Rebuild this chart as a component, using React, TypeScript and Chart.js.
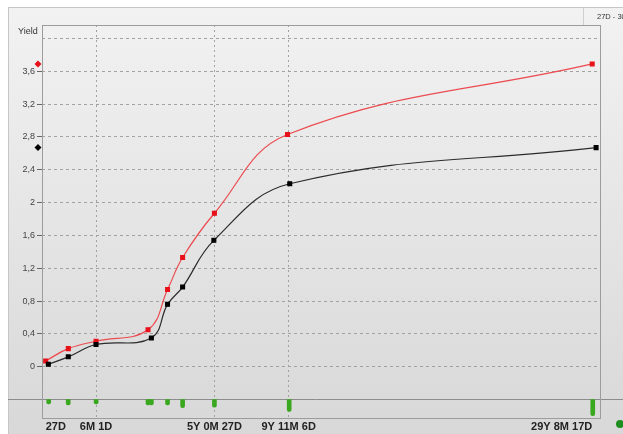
import React, { useEffect, useRef } from "react";
import { Chart, registerables } from "chart.js";
Chart.register(...registerables);

// x axis: position along the (non-linear) maturity axis, 0..100 axis units
const tickPositions = [0.66, 9.68, 30.9, 44.2, 98.6];
const tickLabels = ["27D", "6M 1D", "5Y 0M 27D", "9Y 11M 6D", "29Y 8M 17D"];

const redX = [0.66, 4.71, 9.68, 19.0, 22.5, 25.2, 30.9, 44.0, 98.6];
const redY = [0.07, 0.22, 0.31, 0.45, 0.94, 1.33, 1.87, 2.83, 3.69];
const blackX = [1.13, 4.71, 9.68, 19.6, 22.5, 25.2, 30.8, 44.4, 99.3];
const blackY = [0.03, 0.12, 0.27, 0.35, 0.76, 0.97, 1.54, 2.23, 2.67];

const barX = [1.2, 4.7, 9.7, 19.0, 19.6, 22.5, 25.2, 30.9, 44.3, 98.7];
const barV = [0.24, 0.29, 0.24, 0.29, 0.29, 0.29, 0.44, 0.41, 0.65, 0.88];

const yTicks = [-0.4, 0, 0.4, 0.8, 1.2, 1.6, 2, 2.4, 2.8, 3.2, 3.6, 4.0];
const Y_MIN = -0.6255;
const Y_MAX = 4.1645;
const SEP = -0.4;

const FONT = "'Liberation Sans', Arial, sans-serif";

const decor = {
  id: "decor",
  beforeDraw(chart: any) {
    const { ctx, width, height } = chart;
    ctx.save();
    ctx.fillStyle = "#ffffff";
    ctx.fillRect(0, 0, width, height);
    const g = ctx.createLinearGradient(0, 7, 0, height);
    g.addColorStop(0, "#f2f2f2");
    g.addColorStop(1, "#d8d8d8");
    ctx.fillStyle = g;
    ctx.fillRect(8, 7, width - 8, height - 7);
    ctx.strokeStyle = "#c6c6c6";
    ctx.lineWidth = 1;
    ctx.strokeRect(8.5, 7.5, width, height);
    ctx.strokeStyle = "#d0d0d0";
    ctx.beginPath();
    ctx.moveTo(583.5, 8);
    ctx.lineTo(583.5, 25);
    ctx.stroke();
    ctx.fillStyle = "#333";
    ctx.textBaseline = "middle";
    ctx.textAlign = "left";
    ctx.font = `7.5px ${FONT}`;
    ctx.fillText("27D - 30Y", 597, 16.5);
    ctx.font = `9px ${FONT}`;
    ctx.fillText("Yield", 18, 32);
    ctx.restore();
  },
  beforeDatasetsDraw(chart: any) {
    const { ctx, scales } = chart;
    const y = scales.y.getPixelForValue(SEP);
    ctx.save();
    ctx.strokeStyle = "#8c8c8c";
    ctx.lineWidth = 1;
    ctx.beginPath();
    ctx.moveTo(8, Math.round(y) + 0.5);
    ctx.lineTo(chart.width, Math.round(y) + 0.5);
    ctx.stroke();
    ctx.restore();
  },
  afterDraw(chart: any) {
    const { ctx, chartArea: a, scales } = chart;
    ctx.save();
    ctx.strokeStyle = "#9c9c9c";
    ctx.lineWidth = 1;
    ctx.strokeRect(Math.round(a.left) + 0.5, Math.round(a.top) + 0.5, Math.round(a.right - a.left), Math.round(a.bottom - a.top));
    chart.data.datasets.forEach((ds: any) => {
      if (ds.type !== "line") return;
      const last = ds.data[ds.data.length - 1];
      const py = scales.y.getPixelForValue(last.y);
      const px = a.left - 4;
      ctx.fillStyle = ds.pointBackgroundColor;
      ctx.beginPath();
      ctx.moveTo(px, py - 3.5);
      ctx.lineTo(px + 3.5, py);
      ctx.lineTo(px, py + 3.5);
      ctx.lineTo(px - 3.5, py);
      ctx.closePath();
      ctx.fill();
    });
    ctx.fillStyle = "#1f8c1f";
    ctx.beginPath();
    ctx.arc(a.right + 20, a.bottom + 6, 4, 0, Math.PI * 2);
    ctx.fill();
    ctx.restore();
  },
};

export default function App() {
  const ref = useRef<HTMLCanvasElement | null>(null);
  useEffect(() => {
    if (!ref.current) return;
    const sepFrac = (Y_MAX - SEP) / (SEP - Y_MIN);
    const chart = new Chart(ref.current, {
      type: "line",
      data: {
        datasets: [
          {
            type: "line",
            label: "red",
            data: redX.map((x, i) => ({ x, y: redY[i] })),
            borderColor: "#ec4a4f",
            borderWidth: 1.2,
            pointStyle: "rect",
            pointRadius: 2.7,
            pointBackgroundColor: "#e8111a",
            pointBorderColor: "#e8111a",
            tension: 0.4,
            yAxisID: "y",
            order: 1,
          },
          {
            type: "line",
            label: "black",
            data: blackX.map((x, i) => ({ x, y: blackY[i] })),
            borderColor: "#2b2b2b",
            borderWidth: 1.2,
            pointStyle: "rect",
            pointRadius: 2.7,
            pointBackgroundColor: "#000000",
            pointBorderColor: "#000000",
            tension: 0.4,
            yAxisID: "y",
            order: 0,
          },
          {
            type: "bar",
            label: "volume",
            data: barX.map((x, i) => ({ x, y: barV[i] })),
            backgroundColor: "#3aa81e",
            barThickness: 4,
            borderRadius: 2,
            yAxisID: "y2",
            order: 2,
          } as any,
        ],
      },
      options: {
        animation: false,
        responsive: true,
        maintainAspectRatio: false,
        layout: { padding: { left: 8, right: 23, top: 25, bottom: 0 } },
        plugins: { legend: { display: false }, tooltip: { enabled: false } },
        scales: {
          x: {
            type: "linear",
            min: 0,
            max: 100,
            offset: false,
            afterBuildTicks: (s: any) => {
              s.ticks = tickPositions.map((v) => ({ value: v }));
            },
            afterFit: (s: any) => {
              s.height = 16;
            },
            ticks: {
              autoSkip: false,
              maxRotation: 0,
              align: "inner",
              padding: 2,
              color: "#222",
              font: { family: FONT, size: 11, weight: "bold" },
              callback: (v: any) => {
                const i = tickPositions.indexOf(Number(v));
                return i >= 0 ? tickLabels[i] : "";
              },
            },
            grid: {
              offset: false,
              drawTicks: false,
              color: (c: any) =>
                c.index === 0 || c.index === tickPositions.length - 1 ? "rgba(0,0,0,0)" : "#a2a2a2",
            },
            border: { display: false, dash: [2, 3] },
          },
          y: {
            type: "linear",
            min: Y_MIN,
            max: Y_MAX,
            afterBuildTicks: (s: any) => {
              s.ticks = yTicks.map((v) => ({ value: v }));
            },
            afterFit: (s: any) => {
              s.width = 34;
            },
            ticks: {
              padding: 2,
              color: "#444",
              font: { family: FONT, size: 9 },
              callback: (v: any) => {
                const n = Number(v);
                if (n < -0.01 || n > 3.7) return "";
                return String(Math.round(n * 10) / 10).replace(".", ",");
              },
            },
            grid: {
              color: "#a2a2a2",
              drawTicks: true,
              tickLength: 5,
              tickColor: (c: any) => (c.tick && c.tick.value > 3.7 ? "rgba(0,0,0,0)" : "#666"),
            },
            border: { display: false, dash: [3, 3] },
          },
          y2: {
            type: "linear",
            display: false,
            reverse: true,
            min: -sepFrac,
            max: 1,
          },
        },
      } as any,
      plugins: [decor],
    });
    return () => chart.destroy();
  }, []);
  return (
    <div style={{ position: "absolute", left: 0, top: 0, width: 623, height: 434 }}>
      <canvas ref={ref} />
    </div>
  );
}
